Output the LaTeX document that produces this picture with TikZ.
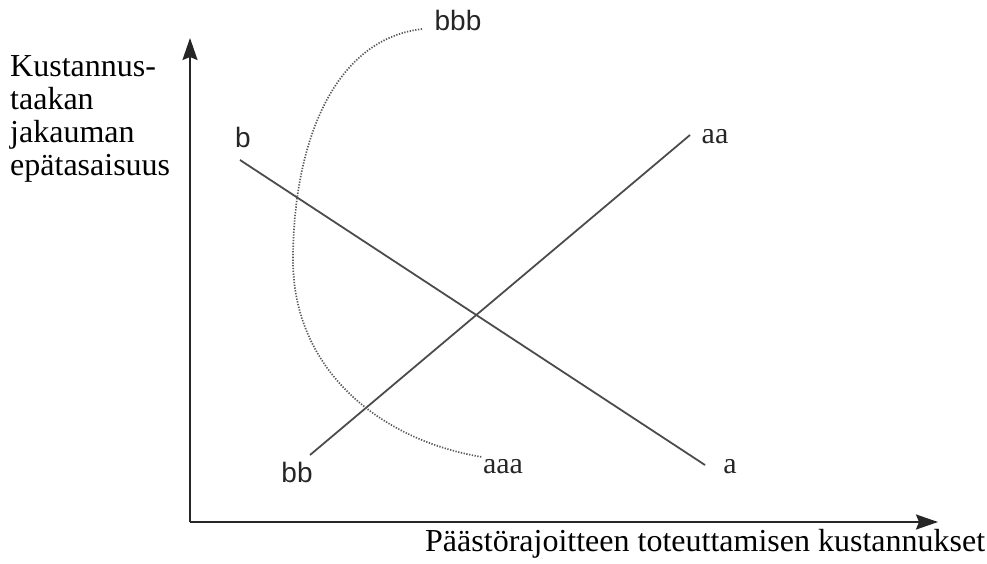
\documentclass[tikz,border=0pt]{standalone}
\usepackage{fontspec}
\setmainfont{Liberation Serif}
\newfontfamily\labsans{Liberation Sans}
\usetikzlibrary{arrows.meta}
\begin{document}
\begin{tikzpicture}[x=1pt,y=-1pt,
  axis/.style={line width=2pt,draw=black!85,-{Stealth[length=22pt,width=15pt,inset=3pt]}},
  curve/.style={line width=1.8pt,draw=black!70},
  dotcurve/.style={line width=1.7pt,draw=black!65,dash pattern=on 1.3pt off 1.5pt},
  serlab/.style={font=\fontsize{30}{34}\selectfont,inner sep=0pt,text=black!85},
  sanslab/.style={font=\labsans\fontsize{28}{32}\selectfont,inner sep=0pt,text=black!85}]
\useasboundingbox (0,0) rectangle (987,564);
% axes
\coordinate (O) at (190,522);
\coordinate (ytop) at (190,38);
\coordinate (xend) at (938,522);
\draw[axis] (O) -- (ytop);
\draw[axis] (O) -- (xend);
% axis labels
\node[font=\fontsize{32}{33}\selectfont,align=left,anchor=north west,inner sep=0pt] (ylab) at (10,55)
  {Kustannus-\\taakan\\jakauman\\epätasaisuus};
\node[font=\fontsize{32}{35}\selectfont,anchor=base west,inner sep=0pt] (xlab) at (425,551)
  {Päästörajoitteen toteuttamisen kustannukset};
% lines
\coordinate (b1) at (240,160);
\coordinate (a1) at (705,465);
\coordinate (bb1) at (310,455);
\coordinate (aa1) at (690,135);
\draw[curve] (b1) -- (a1);
\draw[curve] (bb1) -- (aa1);
% dotted curve
\coordinate (bbb1) at (422,29);
\coordinate (aaa1) at (482,457);
\draw[dotcurve] (bbb1) .. controls (330,40) and (293,150) .. (293,260)
  .. controls (293,370) and (380,440) .. (aaa1);
% labels
\node[sanslab] (lb) at (243,137) {b};
\node[sanslab] (lbb) at (297,472) {bb};
\node[sanslab] (lbbb) at (458,20) {bbb};
\node[serlab] (la) at (730,467) {a};
\node[serlab] (laa) at (715,137) {aa};
\node[serlab] (laaa) at (503,467) {aaa};
\end{tikzpicture}
\end{document}
